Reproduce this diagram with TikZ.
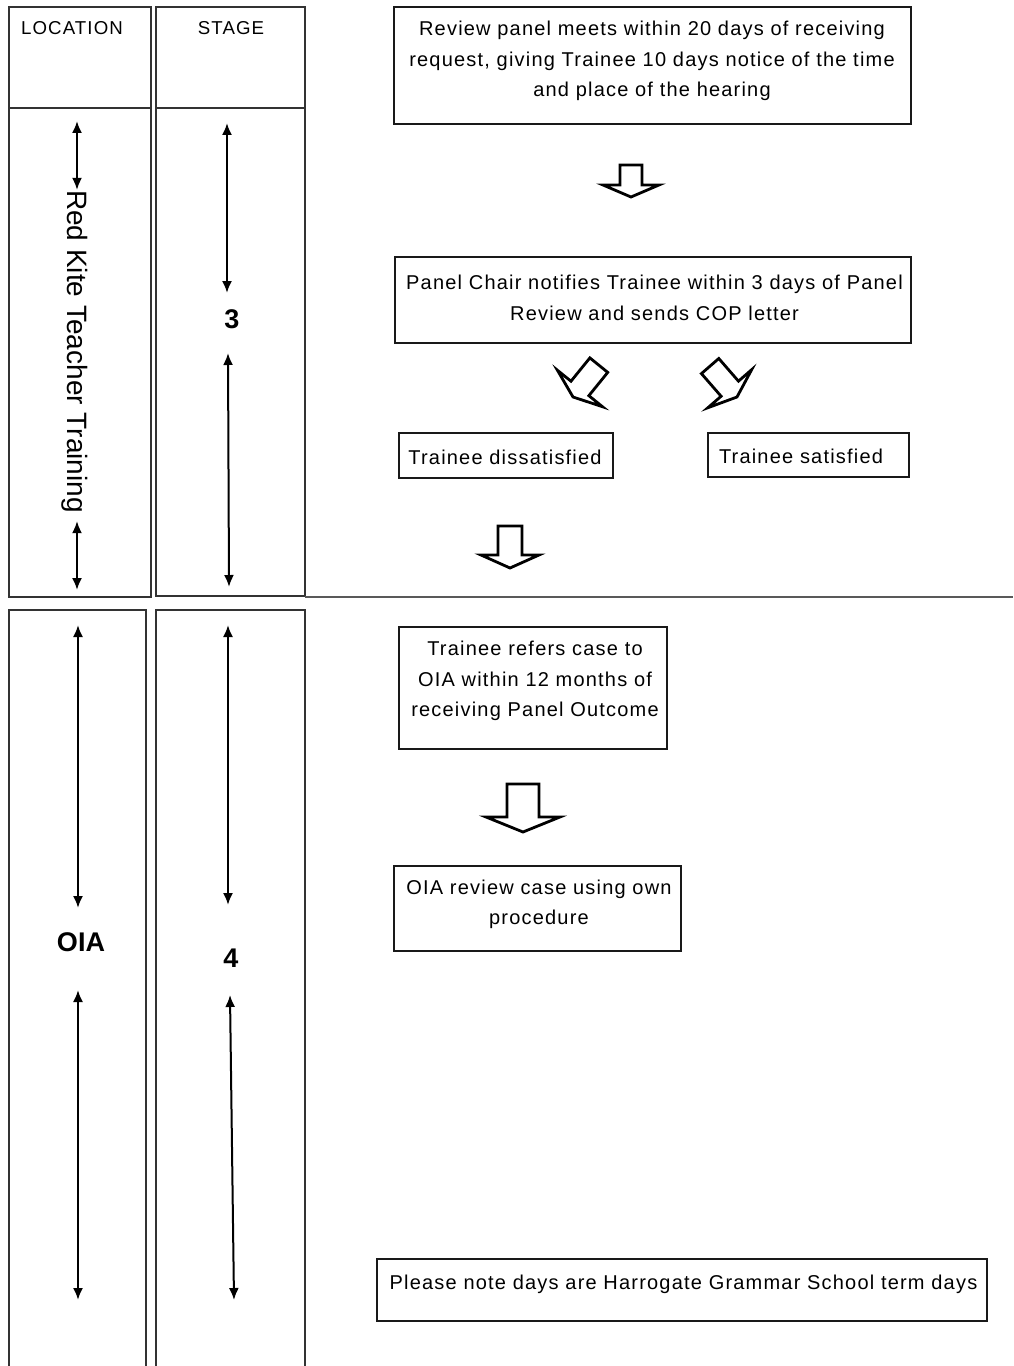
\documentclass[tikz,border=0pt]{standalone}
\usepackage{fontspec}
\setmainfont{Liberation Sans}[LetterSpace=6]
\newfontfamily\plainsans{Liberation Sans}
\usetikzlibrary{arrows.meta}
\tikzset{pics/barr/.style args={#1/#2/#3/#4}{code={%
  \draw[barrow] (0,0) -- (-#1,-#2) -- (-#3,-#2) -- (-#3,-#2-#4) -- (#3,-#2-#4) -- (#3,-#2) -- (#1,-#2) -- cycle;}}}
\begin{document}
\begin{tikzpicture}[x=0.75pt,y=-0.75pt,
  cell/.style={draw=black!80, line width=1.2pt},
  box/.style={draw=black!90, line width=1.25pt, inner sep=0pt},
  txt/.style={font=\fontsize{15}{22.75}\selectfont, align=center, inner sep=0pt},
  hdr/.style={font=\fontsize{14}{16}\selectfont, inner sep=0pt},
  big/.style={font=\plainsans\bfseries\fontsize{20.25}{24}\selectfont, inner sep=0pt},
  dbl/.style={{Latex[length=9pt,width=7.5pt]}-{Latex[length=9pt,width=7.5pt]}, line width=1.5pt},
  barrow/.style={draw=black, fill=white, line width=2.1pt, line join=miter}]
\useasboundingbox (0,0) rectangle (1013,1366);
\clip (0,0) rectangle (1013,1366);

% table cells (upper)
\draw[cell] (9,7) rectangle (151,108);
\draw[cell] (156,7) rectangle (305,108);
\draw[cell] (9,108) rectangle (151,597);
\draw[cell] (156,108) rectangle (305,596);
\draw[line width=1.5pt, black!65] (305,597) -- (1013,597);
% table cells (lower)
\draw[cell] (9,610) rectangle (146,1390);
\draw[cell] (156,610) rectangle (305,1390);

\node[hdr] (loc) at (72,28) {LOCATION};
\node[hdr] (stg) at (231,28) {STAGE};

% location column upper
\node[font=\plainsans\fontsize{21}{24}\selectfont, rotate=-90, inner sep=0pt] (rk) at (75,351.5) {Red Kite Teacher Training};
\coordinate (l1a) at (77,121);
\coordinate (l1b) at (77,590);
\draw[dbl] (l1a) -- (l1a |- rk.west);
\draw[dbl] (l1b |- rk.east) ++(0,8) -- (l1b);

% stage column upper
\node[big] (n3) at (232,319) {3};
\coordinate (s1a) at (227,123);
\coordinate (s1b) at (227,293);
\coordinate (s2a) at (228,353);
\coordinate (s2b) at (229,587);
\draw[dbl] (s1a) -- (s1b);
\draw[dbl] (s2a) -- (s2b);

% lower columns
\node[big] (oia) at (81,942) {OIA};
\coordinate (l2a) at (78,625);
\coordinate (l2b) at (78,908);
\coordinate (l3a) at (78,990);
\coordinate (l3b) at (78,1300);
\draw[dbl] (l2a) -- (l2b);
\draw[dbl] (l3a) -- (l3b);
\node[big] (n4) at (231,958) {4};
\coordinate (s3a) at (228,625);
\coordinate (s3b) at (228,905);
\coordinate (s4a) at (230,995);
\coordinate (s4b) at (234,1300);
\draw[dbl] (s3a) -- (s3b);
\draw[dbl] (s4a) -- (s4b);

% boxes
\node[box, minimum width=387.75pt, minimum height=87.75pt] (A) at (652.5,65.5) {};
\node[txt] (At) at (652,61) {Review panel meets within 20 days of receiving\\request, giving Trainee 10 days notice of the time\\and place of the hearing};
\node[box, minimum width=387pt, minimum height=64.5pt] (B) at (653,300) {};
\node[txt] (Bt) at (654.5,298) {Panel Chair notifies Trainee within 3 days of Panel\\Review and sends COP letter};
\node[box, minimum width=160.5pt, minimum height=33.75pt] (C) at (506,455.5) {};
\node[txt] (Ct) at (505,457) {Trainee dissatisfied};
\node[box, minimum width=150.75pt, minimum height=33pt] (D) at (808.5,455) {};
\node[txt] (Dt) at (801,456) {Trainee satisfied};
\node[box, minimum width=201pt, minimum height=91.5pt] (E) at (533,688) {};
\node[txt] (Et) at (535,681) {Trainee refers case to\\OIA within 12 months of\\receiving Panel Outcome};
\node[box, minimum width=215.25pt, minimum height=63.75pt] (F) at (537.5,908.5) {};
\node[txt] (Ft) at (539,904) {OIA review case using own\\procedure};
\node[box, minimum width=457.5pt, minimum height=46.5pt] (G) at (682,1290) {};
\node[txt] (Gt) at (683.5,1284) {Please note days are Harrogate Grammar School term days};

% block arrows
\pic at (631,197) {barr=28/12/11/20};
\pic[rotate=-39] at (573,397) {barr=29/11/11.5/30};
\pic[rotate=41] at (737,397) {barr=29/11/11.5/30};
\pic at (510,568) {barr=29/13/12/29};
\pic at (523,832) {barr=37/15/16/33};
\end{tikzpicture}
\end{document}
